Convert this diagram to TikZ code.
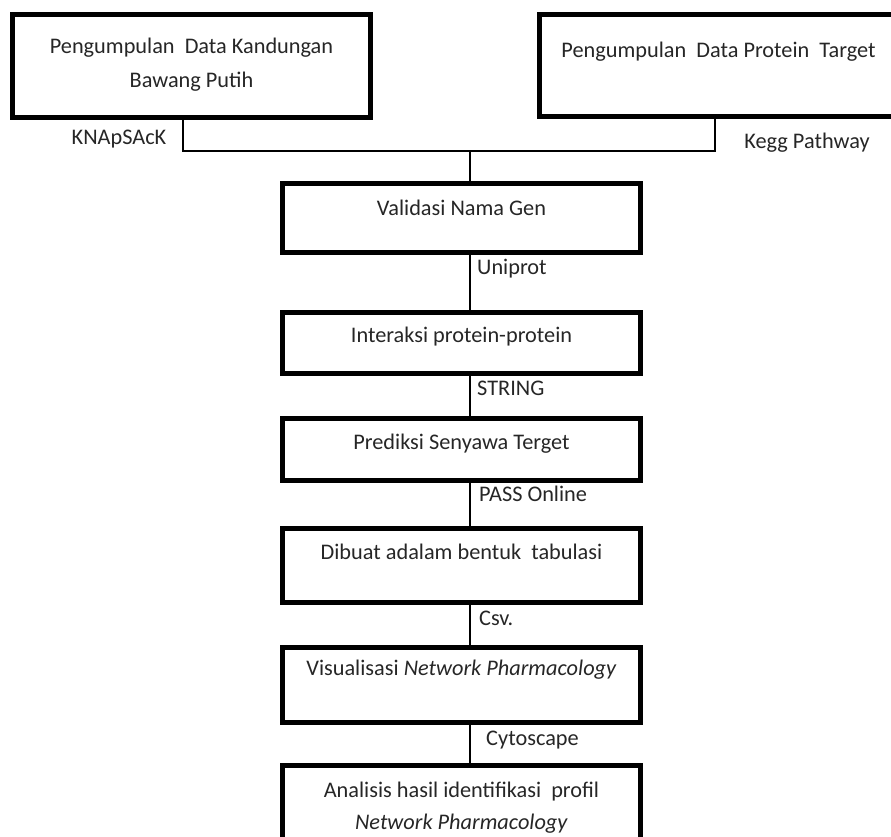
\documentclass[tikz,border=0pt]{standalone}
\usepackage{fontspec}
\setmainfont{Carlito}
\begin{document}
\begin{tikzpicture}[x=1pt,y=-1pt,
  box/.style={draw,line width=5pt,minimum width=358pt,inner sep=0pt,anchor=north,
    align=center,text=black!85,font=\fontsize{22.3}{34}\selectfont},
  lbl/.style={inner sep=1pt,text=black!85,font=\fontsize{22.3}{27}\selectfont},
  conn/.style={line width=1.4pt}]
\useasboundingbox (0,0) rectangle (891,836);
\clip (0,0) rectangle (891,836);
% top row
\node[box,text height=73.5pt,text depth=29.5pt] (kand) at (191.5,11.5) {Pengumpulan\ \ Data Kandungan\\Bawang Putih};
\node[box,text height=43.5pt,text depth=58.5pt] (prot) at (718.5,11.5) {Pengumpulan\ \ Data Protein\ \ Target};
% main column
\node[box,text height=32.5pt,text depth=36.5pt] (valid) at (461.5,180.5) {Validasi Nama Gen};
\node[box,text height=30.5pt,text depth=30.5pt] (inter) at (461.5,309.5) {Interaksi protein-protein};
\node[box,text height=31.5pt,text depth=30.5pt] (pred) at (461.5,415.5) {Prediksi Senyawa Terget};
\node[box,text height=31.5pt,text depth=42.5pt] (tabel) at (461.5,525.5) {Dibuat adalam bentuk\ \ tabulasi};
\node[box,text height=28.5pt,text depth=46.5pt] (visual) at (461.5,644.5) {Visualisasi \textit{Network Pharmacology}};
\node[box,text height=64.5pt,text depth=60pt] (anal) at (461.5,762.5) {Analisis hasil identifikasi\ \ profil\\[-2pt]\textit{Network Pharmacology}};
% connectors
\coordinate (j) at (470,151);
\draw[conn] ([xshift=-8.5pt]kand.south) |- (j);
\draw[conn] ([xshift=-3.5pt]prot.south) |- (j);
\draw[conn] (j) -- (j |- valid.north);
\draw[conn] (valid.south -| j) -- (inter.north -| j);
\draw[conn] (inter.south -| j) -- (pred.north -| j);
\draw[conn] (pred.south -| j) -- (tabel.north -| j);
\draw[conn] (tabel.south -| j) -- (visual.north -| j);
\draw[conn] (visual.south -| j) -- (anal.north -| j);
% tool labels
\node[lbl] (knap) at (119,139) {KNApSAcK};
\node[lbl] (kegg) at (807,143) {Kegg Pathway};
\node[lbl,anchor=west] (uni) at (476,269) {Uniprot};
\node[lbl,anchor=west] (string) at (476,388) {STRING};
\node[lbl,anchor=west] (pass) at (478,494) {PASS Online};
\node[lbl,anchor=west] (csv) at (478,618) {Csv.};
\node[lbl,anchor=west] (cyto) at (485,740) {Cytoscape};
\end{tikzpicture}
\end{document}
